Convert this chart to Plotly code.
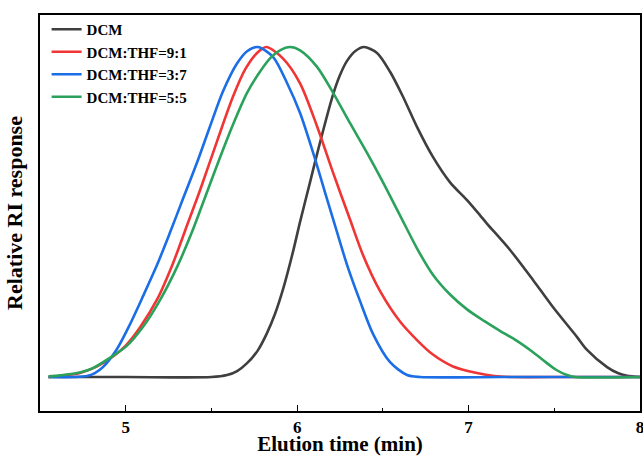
import plotly.graph_objects as go

# DCM (black)
dcm_x = [4.55, 5.0, 5.50, 5.591, 5.65, 5.708, 5.77, 5.824, 5.87, 5.92, 5.976, 6.017, 6.075, 6.133, 6.209, 6.25, 6.291, 6.34, 6.39,
         6.466, 6.542, 6.617, 6.699, 6.792, 6.892, 6.991, 7.067, 7.107, 7.242, 7.376, 7.492, 7.633, 7.691, 7.808, 7.87, 7.925, 8.0]
dcm_y = [0.0, 0.0, 0.0, 0.006, 0.018, 0.042, 0.08, 0.133, 0.19, 0.27, 0.38, 0.47, 0.59, 0.71, 0.855, 0.915, 0.958, 0.988, 1.0,
         0.982, 0.925, 0.85, 0.758, 0.667, 0.59, 0.536, 0.49, 0.465, 0.385, 0.294, 0.212, 0.121, 0.082, 0.030, 0.012, 0.004, 0.0]

# DCM:THF=9:1 (red)
r91_x = [4.55, 4.62, 4.733, 4.833, 4.926, 5.00, 5.083, 5.183, 5.276, 5.358, 5.433, 5.533, 5.626, 5.70, 5.766, 5.82,
         5.918, 6.017, 6.116, 6.209, 6.308, 6.384, 6.484, 6.600, 6.699, 6.792, 6.909, 7.049, 7.15, 7.25, 7.6, 8.0]
r91_y = [0.0, 0.003, 0.012, 0.032, 0.062, 0.095, 0.15, 0.235, 0.345, 0.46, 0.565, 0.715, 0.85, 0.935, 0.982, 1.0,
         0.965, 0.89, 0.76, 0.62, 0.478, 0.37, 0.26, 0.168, 0.112, 0.068, 0.032, 0.012, 0.003, 0.0, 0.0, 0.0]

# DCM:THF=3:7 (blue)
r37_x = [4.55, 4.70, 4.774, 4.82, 4.867, 4.949, 5.025, 5.101, 5.183, 5.26, 5.334, 5.416, 5.492, 5.567, 5.649, 5.71, 5.77,
         5.859, 5.941, 6.017, 6.093, 6.174, 6.238, 6.291, 6.367, 6.443, 6.542, 6.641, 6.717, 7.2, 7.6, 8.0]
r37_y = [0.0, 0.0, 0.003, 0.012, 0.030, 0.085, 0.160, 0.245, 0.340, 0.44, 0.54, 0.65, 0.76, 0.865, 0.950, 0.988, 1.0,
         0.970, 0.891, 0.80, 0.68, 0.54, 0.43, 0.34, 0.23, 0.13, 0.045, 0.006, 0.0, 0.0, 0.0, 0.0]

# DCM:THF=5:5 (green)
r55_x = [4.55, 4.617, 4.716, 4.809, 4.908, 5.008, 5.101, 5.200, 5.299, 5.387, 5.474, 5.55, 5.626, 5.707, 5.783, 5.85, 5.90, 5.958,
         6.017, 6.116, 6.209, 6.308, 6.407, 6.501, 6.600, 6.699, 6.792, 6.892, 6.991, 7.09, 7.183, 7.28, 7.376, 7.45, 7.51, 7.574, 7.62, 8.0]
r55_y = [0.002, 0.005, 0.012, 0.027, 0.058, 0.095, 0.152, 0.233, 0.333, 0.44, 0.56, 0.665, 0.765, 0.86, 0.925, 0.97, 0.99, 1.0,
         0.99, 0.94, 0.862, 0.77, 0.68, 0.59, 0.49, 0.39, 0.31, 0.25, 0.205, 0.17, 0.14, 0.11, 0.075, 0.045, 0.022, 0.006, 0.0, 0.0]

x_ticks = [5, 6, 7, 8]

series = [
    ("DCM", dcm_x, dcm_y, "#3f3f3f"),
    ("DCM:THF=9:1", r91_x, r91_y, "#f03535"),
    ("DCM:THF=3:7", r37_x, r37_y, "#1b6ee6"),
    ("DCM:THF=5:5", r55_x, r55_y, "#2ba25c"),
]

fig = go.Figure()
for name, xs, ys, col in series:
    fig.add_trace(go.Scatter(x=xs, y=ys, mode="lines", name=name,
                             line=dict(color=col, width=2.6, shape="spline", smoothing=0.8)))

font_family = "Liberation Serif, Times New Roman, serif"
fig.update_layout(
    width=643, height=456,
    margin=dict(l=40, r=3, t=15, b=45),
    paper_bgcolor="white", plot_bgcolor="white",
    font=dict(family=font_family, size=15, color="black", weight="bold"),
    showlegend=True,
    legend=dict(x=0.011, y=1.005, xanchor="left", yanchor="top",
                bgcolor="rgba(0,0,0,0)", font=dict(size=15, family=font_family, weight="bold"),
                tracegroupgap=0),
)
fig.update_xaxes(
    range=[4.5, 8.0], tickvals=x_ticks, ticktext=[str(v) for v in x_ticks],
    ticks="inside", ticklen=6, tickwidth=1.2, tickcolor="black",
    showline=True, linecolor="black", linewidth=1.5, mirror=True,
    showgrid=False, zeroline=False, automargin=False, ticklabeloverflow="allow",
    tickfont=dict(size=17, family=font_family, weight="bold"),
    minor=dict(ticks="inside", ticklen=3, tickwidth=1, tickcolor="black", dtick=0.5, tick0=4.5, showgrid=False),
    title=dict(text="Elution time (min)", font=dict(size=21, family=font_family, weight="bold"), standoff=5),
)
fig.update_yaxes(
    range=[-0.103, 1.097], showticklabels=False, ticks="",
    showline=True, linecolor="black", linewidth=1.5, mirror=True,
    showgrid=False, zeroline=False, automargin=False,
    title=dict(text="Relative RI response", font=dict(size=22, family=font_family, weight="bold"), standoff=10),
)

fig.write_html("out.html", config={"displayModeBar": False},
               post_script="document.body.style.margin='0';document.body.style.overflow='hidden';")
